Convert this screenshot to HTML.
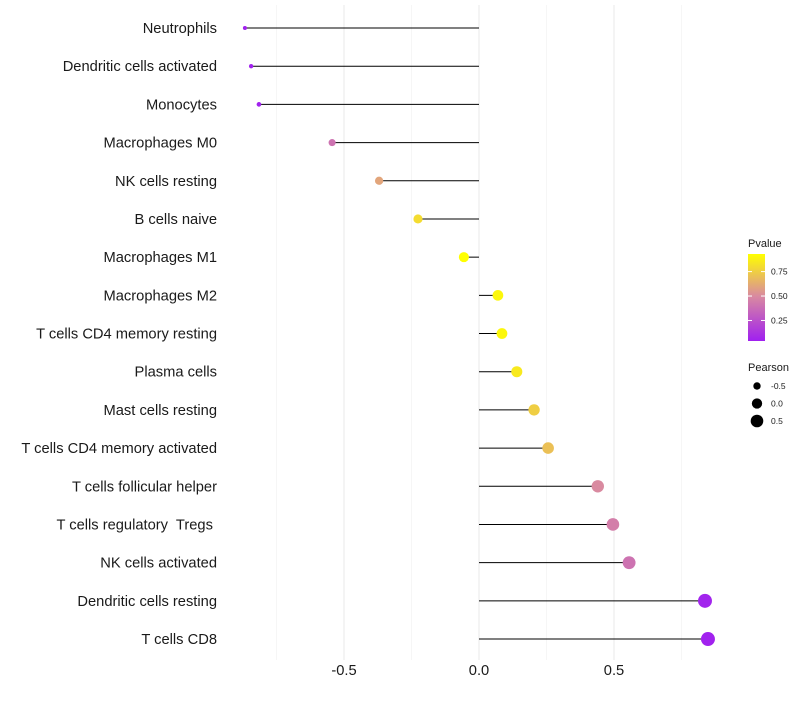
<!DOCTYPE html>
<html><head><meta charset="utf-8"><style>
body{margin:0;background:#fff;font-family:"Liberation Sans",sans-serif}
text{white-space:pre}
</style></head><body>
<svg id="chart" width="800" height="700" xmlns="http://www.w3.org/2000/svg"></svg>
<script>
const categories=["Neutrophils","Dendritic cells activated","Monocytes","Macrophages M0","NK cells resting","B cells naive","Macrophages M1","Macrophages M2","T cells CD4 memory resting","Plasma cells","Mast cells resting","T cells CD4 memory activated","T cells follicular helper","T cells regulatory  Tregs ","NK cells activated","Dendritic cells resting","T cells CD8"];
const pearson=[-0.867,-0.844,-0.815,-0.544,-0.37,-0.226,-0.056,0.07,0.085,0.14,0.204,0.256,0.44,0.496,0.556,0.837,0.848];
const pvalue=[0.05,0.05,0.05,0.4,0.6,0.8,0.93,0.9,0.9,0.85,0.75,0.7,0.5,0.45,0.4,0.06,0.05];
const xTicks=[-0.5,0,0.5];
const xTickLabels=["-0.5","0.0","0.5"];
const pTicks=[0.25,0.5,0.75];
const sizeTicks=[-0.5,0,0.5];

const svg=document.getElementById('chart');
const NS="http://www.w3.org/2000/svg";
function mk(t,a,p){const e=document.createElementNS(NS,t);for(const k in a)e.setAttribute(k,a[k]);(p||svg).appendChild(e);return e;}
const x=v=>479+v*270;
const y=i=>28+i*38.19;
function col(p){
 const stops=[[0.04,[160,32,240]],[0.5,[217,138,160]],[0.93,[255,255,0]]];
 p=Math.max(0.04,Math.min(0.93,p));
 let a=stops[0],b=stops[1];if(p>0.5){a=stops[1];b=stops[2];}
 const t=(p-a[0])/(b[0]-a[0]);
 return 'rgb('+a[1].map((c,i)=>Math.round(c+(b[1][i]-c)*t)).join(',')+')';
}
const rad=v=>Math.sqrt(4+(v+0.87)/1.72*45);
[-0.75,-0.25,0.25,0.75].forEach(v=>{const g=mk('line',{x1:x(v),x2:x(v),y1:5,y2:660,stroke:'#f0f0f0','stroke-width':0.6});});
xTicks.forEach((v,i)=>{const g=mk('line',{x1:x(v),x2:x(v),y1:5,y2:660,stroke:'#ebebeb','stroke-width':1.1});
 const t=mk('text',{x:x(v),y:675,'text-anchor':'middle','font-size':14.7,fill:'#1a1a1a'});t.textContent=xTickLabels[i];});
categories.forEach((c,i)=>{
 const t=mk('text',{x:217,y:y(i)+5,'text-anchor':'end','font-size':14.7,fill:'#1a1a1a'});t.textContent=c;
 const l=mk('line',{x1:x(0),x2:x(pearson[i]),y1:y(i),y2:y(i),stroke:'#000','stroke-width':1});
 const d=mk('circle',{cx:x(pearson[i]),cy:y(i),r:rad(pearson[i]),fill:col(pvalue[i])});
});
const defs=mk('defs',{});const lg=mk('linearGradient',{id:'pg',x1:0,y1:1,x2:0,y2:0},defs);
[0.04,0.25,0.5,0.75,0.93].forEach((p,i)=>mk('stop',{offset:(p-0.04)/0.89,'stop-color':col(p)},lg));
const lt=mk('text',{x:748,y:247,'font-size':11,fill:'#1a1a1a'});lt.textContent='Pvalue';
const cb=mk('rect',{x:748,y:254,width:17,height:87,fill:'url(#pg)'});
const py=p=>341-(p-0.04)/0.89*87;
pTicks.forEach(p=>{mk('line',{x1:748,x2:752,y1:py(p),y2:py(p),stroke:'#fff'});mk('line',{x1:761,x2:765,y1:py(p),y2:py(p),stroke:'#fff'});
 const t=mk('text',{x:771,y:py(p)+3,'font-size':8.5,fill:'#1a1a1a'});t.textContent=p.toFixed(2);});
const st=mk('text',{x:748,y:371,'font-size':11,fill:'#1a1a1a'});st.textContent='Pearson';
sizeTicks.forEach((v,i)=>{const cy=386+i*17.5;const c=mk('circle',{cx:757,cy:cy,r:rad(v),fill:'#000'});
 const t=mk('text',{x:771,y:cy+3,'font-size':8.5,fill:'#1a1a1a'});t.textContent=v===0?'0.0':String(v);});
</script>
</body></html>
